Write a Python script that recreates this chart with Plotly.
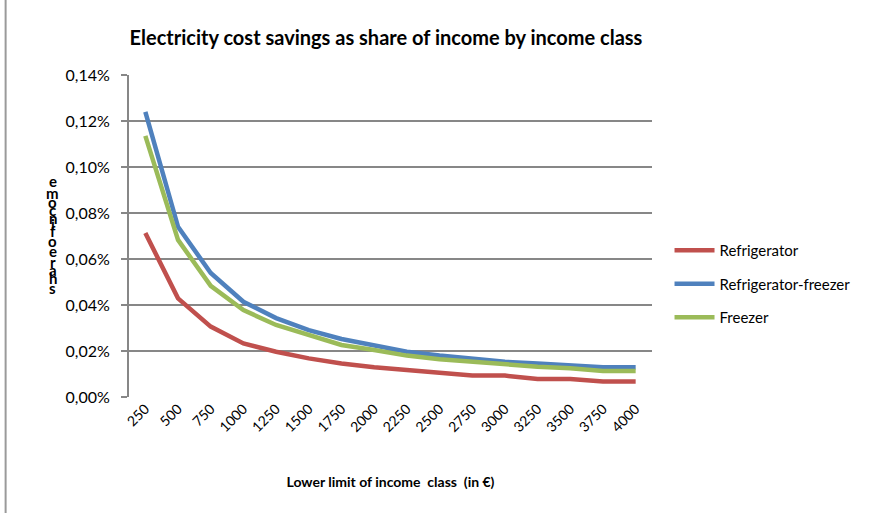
import plotly.graph_objects as go

# Income classes (lower limit, in €) and savings as share of income
income_classes = ["250", "500", "750", "1000", "1250", "1500", "1750", "2000",
                  "2250", "2500", "2750", "3000", "3250", "3500", "3750", "4000"]

refrigerator = [0.000713, 0.000429, 0.000306, 0.000233, 0.000197, 0.000168, 0.000146, 0.000129,
                0.000117, 0.000106, 0.000093, 0.000093, 0.000078, 0.000078, 0.000067, 0.000067]
refrigerator_freezer = [0.00124, 0.000740, 0.000539, 0.000414, 0.000343, 0.000291, 0.000252, 0.000226,
                        0.000197, 0.000180, 0.000165, 0.000153, 0.000146, 0.000138, 0.000129, 0.000129]
freezer = [0.001135, 0.000683, 0.000483, 0.000378, 0.000313, 0.000270, 0.000226, 0.000204,
           0.000180, 0.000164, 0.000153, 0.000143, 0.000132, 0.000125, 0.000113, 0.000113]

series_names = ["Refrigerator", "Refrigerator-freezer", "Freezer"]
series_colors = ["#C0504D", "#4F81BD", "#9BBB59"]

# Vertical axis label, drawn letter by letter (bottom to top spells "share of income")
ylabel_letters = ["e", "m", "o", "c", "n", "i", "f", "o", "e", "r", "a", "h", "s"]
ylabel_pixel_y = [181, 193, 202, 210, 218, 224, 231, 241, 251, 262, 270, 278, 288]

FONT = "Lato"
GRID = "#878787"

# Plot area geometry in pixels
L, R, T, B = 128.5, 225, 75, 116
W, H = 877, 513
PW, PH = W - L - R, H - T - B

fig = go.Figure()
for name, vals, col in zip(series_names, [refrigerator, refrigerator_freezer, freezer], series_colors):
    fig.add_trace(go.Scatter(
        x=income_classes, y=vals, name=name, mode="lines", legendgroup=name,
        line=dict(color=col, width=4.5),
    ))

annotations = []
for ch, py in zip(ylabel_letters, ylabel_pixel_y):
    annotations.append(dict(
        text=f"<b>{ch}</b>", xref="paper", yref="paper",
        x=(52 - L) / PW, y=(H - B - py) / PH, showarrow=False,
        xanchor="center", yanchor="middle",
        font=dict(family=FONT, size=15, color="#000000"),
    ))

fig.update_layout(
    width=W, height=H,
    margin=dict(l=L, r=R, t=T, b=B),
    paper_bgcolor="white", plot_bgcolor="white",
    separators=",.",
    font=dict(family=FONT, color="#000000"),
    title=dict(
        text="<b>Electricity cost savings as share of income by income class</b>",
        x=386 / W, xanchor="center", y=1 - 38 / H, yanchor="middle",
        font=dict(family=FONT, size=20, color="#000000"),
    ),
    xaxis=dict(
        type="category", showgrid=False, zeroline=False,
        showline=False, ticks="", tickangle=-45,
        tickfont=dict(size=14, color="#000000"),
        title=dict(text="<b>Lower limit of income\u00a0 class\u00a0 (in €)</b>",
                   font=dict(size=14, color="#000000"), standoff=43),
        range=[-0.5, 15.5],
    ),
    yaxis=dict(
        range=[0, 0.0014], tickvals=[0, 0.0002, 0.0004, 0.0006, 0.0008, 0.001, 0.0012, 0.0014],
        tickformat=".2%", showgrid=True, gridcolor=GRID, gridwidth=2,
        zeroline=False, showline=True, linecolor=GRID, linewidth=2,
        ticks="outside", ticklen=6, tickcolor=GRID, tickwidth=2,
        tickfont=dict(size=16, color="#000000"), ticklabelstandoff=8,
    ),
    legend=dict(
        x=1.0335, y=(397 - 284) / PH, xanchor="left", yanchor="middle",
        font=dict(family=FONT, size=15, color="#000000"),
        tracegroupgap=11, itemwidth=40, bgcolor="rgba(0,0,0,0)",
    ),
    showlegend=True,
    annotations=annotations,
    shapes=[dict(type="line", xref="paper", yref="paper",
                 x0=(5 - L) / PW, x1=(5 - L) / PW, y0=-B / PH - 0.1, y1=1 + T / PH + 0.1,
                 line=dict(color="#9a9a9a", width=2))],
)

fig.write_html("out.html")
